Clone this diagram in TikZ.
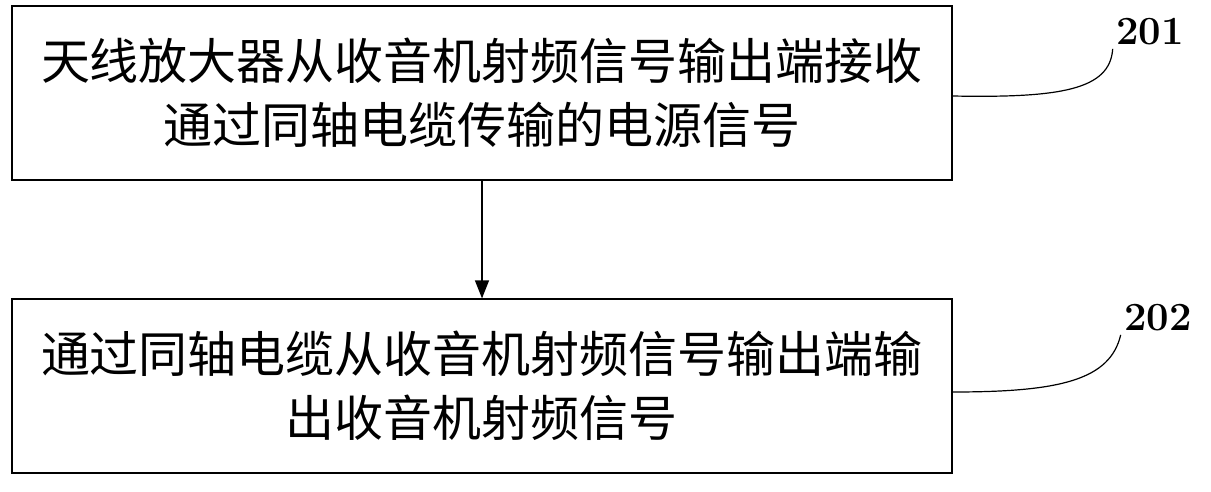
\documentclass[tikz,border=0pt]{standalone}
\usepackage{fontspec}
\newfontfamily\cjk{Noto Sans CJK SC}
\usetikzlibrary{positioning,arrows.meta}
\tikzset{
  stepbox/.style={draw, line width=1.2pt, minimum width=940pt, minimum height=174pt,
    align=center, font=\cjk\fontsize{49}{64}\selectfont},
  steplabel/.style={font=\bfseries\fontsize{40}{42}\selectfont}
}
\begin{document}
\begin{tikzpicture}[x=1pt,y=-1pt]
  \useasboundingbox (0,0) rectangle (1211,491);
  \node[stepbox] (s1) at (482,93) {天线放大器从收音机射频信号输出端接收\\通过同轴电缆传输的电源信号};
  \node[stepbox] (s2) at (482,386) {通过同轴电缆从收音机射频信号输出端输\\出收音机射频信号};
  \draw[line width=1.2pt, -{Triangle[length=18pt,width=14pt]}] (s1) -- (s2);
  \node[steplabel] (l1) at (1150,32) {201};
  \node[steplabel] (l2) at (1158,318) {202};
  \draw[line width=1.2pt] (s1.east) ++(0,3) coordinate (c1) .. controls (1060,98) and (1110,90) .. (l1.south west);
  \draw[line width=1.2pt] (s2.east) ++(0,6) coordinate (c2) .. controls (1060,392) and (1110,380) .. (l2.south west);
\end{tikzpicture}
\end{document}
